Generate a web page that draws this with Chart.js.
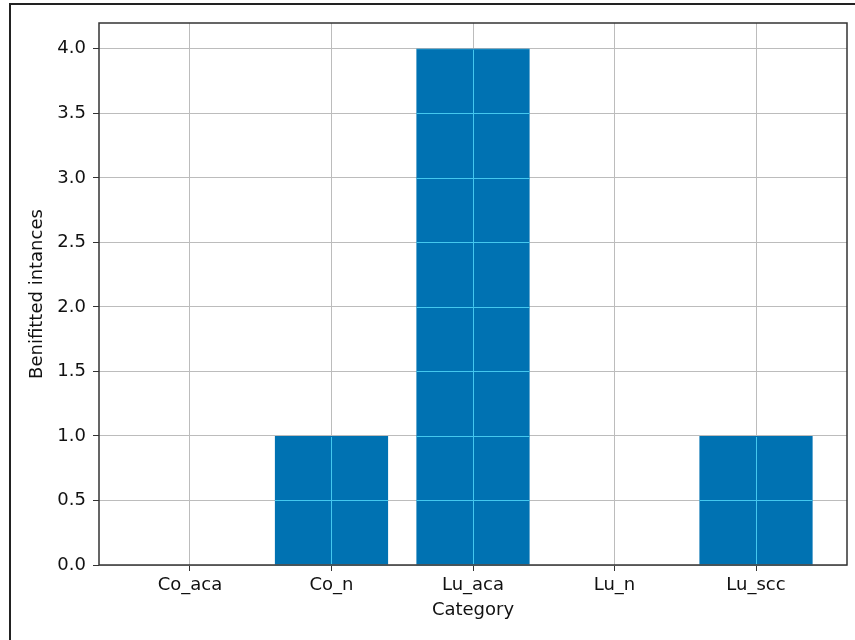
<!DOCTYPE html>
<html>
<head>
<meta charset="utf-8">
<script src="https://cdn.jsdelivr.net/npm/chart.js@4/dist/chart.umd.min.js"></script>
<style>
  html, body { margin: 0; padding: 0; background: #fff; }
  #wrap { position: relative; width: 855px; height: 640px; overflow: hidden; }
  #dash { position: absolute; left: 0; top: 0; }
  #frame { position: absolute; left: 9px; top: 3px; width: 900px; height: 700px;
           border-left: 2px solid #222; border-top: 2px solid #222; pointer-events: none; }
</style>
</head>
<body>
<div id="wrap">
  <canvas id="dash" width="855" height="640"></canvas>
  <div id="frame"></div>
</div>
<script>
(function () {
  'use strict';
  let categorias = ['Co_aca', 'Co_n', 'Lu_aca', 'Lu_n', 'Lu_scc'];
  let valores = [0, 1, 4, 0, 1];
  let yTicks = [0, 0.5, 1, 1.5, 2, 2.5, 3, 3.5, 4];

  let fonte = { family: 'DejaVu Sans', size: 18 };

  // grid lines redrawn (light) on top of the bars, then the axes frame
  let gradeSobre = {
    id: 'gradeSobre',
    afterDatasetsDraw(chart) {
      let ctx = chart.ctx;
      let a = chart.chartArea;
      let xs = chart.scales.x;
      let ys = chart.scales.y;
      let barras = chart.getDatasetMeta(0).data;
      ctx.save();
      ctx.beginPath();
      barras.forEach(function (b) {
        let p = b.getProps(['x', 'y', 'base', 'width'], true);
        ctx.rect(p.x - p.width / 2, Math.min(p.y, p.base) + 1, p.width, Math.abs(p.base - p.y));
      });
      ctx.clip();
      ctx.strokeStyle = '#44c8ee';
      ctx.lineWidth = 1;
      ctx.beginPath();
      yTicks.forEach(function (v) {
        let y = Math.round(ys.getPixelForValue(v)) + 0.5;
        ctx.moveTo(a.left, y); ctx.lineTo(a.right, y);
      });
      categorias.forEach(function (c, i) {
        let x = Math.round(xs.getPixelForValue(i)) + 0.5;
        ctx.moveTo(x, a.top); ctx.lineTo(x, a.bottom);
      });
      ctx.stroke();
      ctx.restore();

      ctx.save();
      ctx.strokeStyle = '#333';
      ctx.lineWidth = 1.5;
      ctx.strokeRect(a.left, a.top, a.right - a.left, a.bottom - a.top);
      ctx.restore();
    }
  };

  new Chart(document.getElementById('dash'), {
    type: 'bar',
    data: {
      datasets: [{
        data: valores.map(function (v, i) { return { x: i, y: v }; }),
        backgroundColor: '#0072b2',
        borderWidth: 0,
        categoryPercentage: 1,
        barPercentage: 0.8
      }]
    },
    options: {
      responsive: false,
      animation: false,
      layout: { padding: { top: 23, right: 8, left: 0, bottom: 0 } },
      plugins: { legend: { display: false }, tooltip: { enabled: false } },
      scales: {
        x: {
          type: 'linear',
          offset: false,
          min: -0.643,
          max: 4.643,
          afterBuildTicks: function (s) {
            s.ticks = categorias.map(function (c, i) { return { value: i }; });
          },
          afterFit: function (s) { s.height = 75; },
          ticks: {
            autoSkip: false,
            maxRotation: 0,
            padding: 4,
            color: '#111',
            font: fonte,
            callback: function (v) { return categorias[v]; }
          },
          grid: { offset: false, color: '#bcbcbc', tickColor: '#333', tickLength: 6 },
          border: { display: false },
          title: { display: true, text: 'Category', color: '#111', font: fonte,
                   padding: { top: 0, bottom: 19 } }
        },
        y: {
          min: 0,
          max: 4.2,
          afterBuildTicks: function (s) {
            s.ticks = yTicks.map(function (v) { return { value: v }; });
          },
          afterFit: function (s) { s.width = 99; },
          ticks: {
            padding: 7,
            color: '#111',
            font: fonte,
            callback: function (v) { return Number(v).toFixed(1); }
          },
          grid: { color: '#bcbcbc', tickColor: '#333', tickLength: 6 },
          border: { display: false },
          title: { display: true, text: 'Benifitted intances', color: '#111', font: fonte,
                   padding: { top: 27, bottom: 0 } }
        }
      }
    },
    plugins: [gradeSobre]
  });
})();
</script>
</body>
</html>
